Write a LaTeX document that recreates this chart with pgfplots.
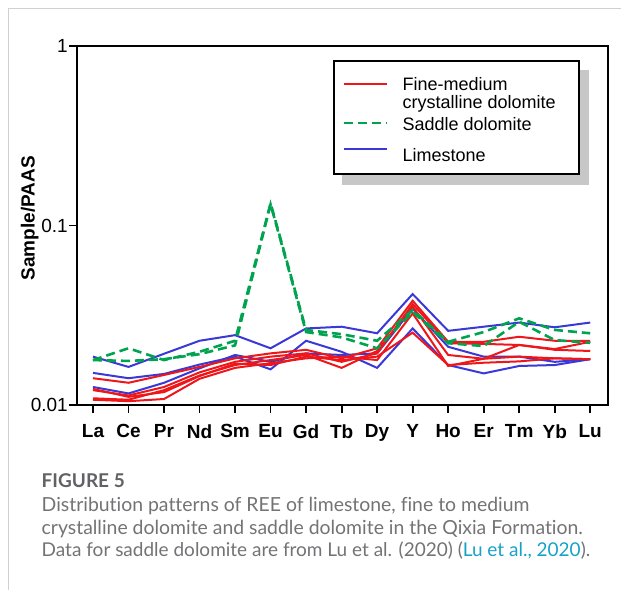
\documentclass[border=0pt]{standalone}
\usepackage{pgfplots}
\pgfplotsset{compat=1.18}
\usepackage{pgfplotstable}
\usepackage{fontspec}
\setmainfont{Liberation Sans}
\newfontfamily\capfont[Ligatures=NoCommon]{Lato}
\usetikzlibrary{backgrounds}

\definecolor{fmred}{RGB}{238,22,26}
\definecolor{sdgreen}{RGB}{0,163,80}
\definecolor{lsblue}{RGB}{58,56,214}
\definecolor{capgray}{RGB}{115,115,118}
\definecolor{capdark}{RGB}{98,98,102}
\definecolor{linkcyan}{RGB}{22,162,200}
\definecolor{framegray}{RGB}{208,208,208}

% REE / PAAS, one column per sample
\pgfplotstableread{
i  L1     L2     L3     R1     R2     R3     R4     R5     G1     G2
0  0.0186 0.0151 0.0126 0.0141 0.0121 0.0109 0.0107 0.0123 0.0178 0.0178
1  0.0163 0.0141 0.0116 0.0133 0.0113 0.0107 0.0105 0.0111 0.0207 0.0176
2  0.0193 0.0149 0.0133 0.0147 0.0126 0.0121 0.0108 0.0118 0.0178 0.0180
3  0.0228 0.0168 0.0160 0.0163 0.0152 0.0146 0.0140 0.0145 0.0198 0.0192
4  0.0245 0.0186 0.0190 0.0182 0.0174 0.0167 0.0161 0.0170 0.0228 0.0215
5  0.0207 0.0158 0.0174 0.0194 0.0186 0.0178 0.0171 0.0167 0.1330 0.1310
6  0.0267 0.0228 0.0194 0.0203 0.0194 0.0190 0.0182 0.0186 0.0262 0.0255
7  0.0273 0.0198 0.0190 0.0182 0.0174 0.0161 0.0186 0.0178 0.0248 0.0238
8  0.0251 0.0161 0.0194 0.0207 0.0194 0.0200 0.0178 0.0186 0.0228 0.0207
9  0.0415 0.0267 0.0345 0.0381 0.0365 0.0353 0.0324 0.0253 0.0338 0.0330
10 0.0259 0.0167 0.0211 0.0225 0.0221 0.0190 0.0165 0.0167 0.0225 0.0221
11 0.0273 0.0150 0.0186 0.0225 0.0219 0.0181 0.0181 0.0172 0.0255 0.0213
12 0.0288 0.0165 0.0186 0.0240 0.0216 0.0216 0.0186 0.0175 0.0304 0.0291
13 0.0271 0.0167 0.0174 0.0228 0.0205 0.0203 0.0182 0.0182 0.0262 0.0230
14 0.0288 0.0180 0.0180 0.0228 0.0225 0.0200 0.0180 0.0180 0.0251 0.0222
}\ree

\begin{document}
\begin{tikzpicture}[x=1pt,y=1pt]
\path[use as bounding box] (0,0) rectangle (621,590);
\draw[framegray, line width=1.3pt] (8.5,0) -- (8.5,581.5) -- (621,581.5);

\begin{axis}[
  at={(77pt,185pt)}, anchor=south west,
  scale only axis, width=531pt, height=359pt,
  ymode=log,
  xmin=-0.45, xmax=14.5, ymin=0.01, ymax=1,
  xtick={0,...,14},
  xticklabels={La,Ce,Pr,Nd,Sm,Eu,Gd,Tb,Dy,Y,Ho,Er,Tm,Yb,Lu},
  ytick={0.01,0.1,1}, yticklabels={0.01,0.1,1},
  yminorticks=false,
  tick pos=left, tick align=outside, major tick length=8pt,
  axis line style={line width=2pt},
  tick style={line width=1.8pt, black},
  tick label style={font=\fontsize{19}{22}\selectfont},
  xticklabel style={font=\fontsize{19}{22}\selectfont\bfseries, yshift=-8pt},
  yticklabel style={inner xsep=1pt},
  ylabel={Sample/PAAS},
  ylabel style={font=\fontsize{19}{22}\selectfont\bfseries,
    at={(axis description cs:-0.089,0.52)}, anchor=center},
  legend style={name=leg, at={(axis description cs:0.482,0.961)}, anchor=north west,
    draw=black, line width=2.2pt, fill=white,
    font=\fontsize{18}{20}\selectfont,
    nodes={inner ysep=0pt}, row sep=0pt, inner xsep=9pt, inner ysep=11pt,
    /tikz/every odd column/.append style={column sep=12pt}},
  legend cell align=left,
  legend image code/.code={\draw[#1] (0pt,-2pt) -- (43pt,-2pt);},
]
\addlegendimage{fmred, line width=2pt}
\addlegendentry{\rule[-5pt]{0pt}{23.3pt}Fine-medium}
\addlegendimage{empty legend}
\addlegendentry{\rule{0pt}{17pt}crystalline dolomite\hspace*{12pt}}
\addlegendimage{sdgreen, line width=2.6pt, dash pattern=on 9pt off 5pt}
\addlegendentry{\rule{0pt}{19.7pt}Saddle dolomite}
\addlegendimage{lsblue, line width=2pt}
\addlegendentry{\rule{0pt}{30pt}Limestone}

\addplot[lsblue, line width=2pt, forget plot] table[x=i, y=L1] {\ree};
\addplot[lsblue, line width=2pt, forget plot] table[x=i, y=L2] {\ree};
\addplot[lsblue, line width=2pt, forget plot] table[x=i, y=L3] {\ree};
\addplot[fmred, line width=2pt, forget plot] table[x=i, y=R1] {\ree};
\addplot[fmred, line width=2pt, forget plot] table[x=i, y=R2] {\ree};
\addplot[fmred, line width=2pt, forget plot] table[x=i, y=R3] {\ree};
\addplot[fmred, line width=2pt, forget plot] table[x=i, y=R4] {\ree};
\addplot[fmred, line width=2pt, forget plot] table[x=i, y=R5] {\ree};
\addplot[sdgreen, line width=2.6pt, dash pattern=on 9pt off 5pt, forget plot] table[x=i, y=G1] {\ree};
\addplot[sdgreen, line width=2.6pt, dash pattern=on 9pt off 5pt, forget plot] table[x=i, y=G2] {\ree};
\end{axis}

\begin{scope}[on background layer]
\fill[black!22] ([shift={(9pt,-10pt)}]leg.south west) rectangle ([shift={(9pt,-10pt)}]leg.north east);
\end{scope}

\node[anchor=base west, inner sep=0, text=capdark, font=\capfont\bfseries\fontsize{19}{22}\selectfont] at (41.5,103) {FIGURE 5};
\node[anchor=base west, inner sep=0, text=capgray, font=\capfont\fontsize{19.4}{22}\selectfont] at (41.5,78.5) {Distribution patterns of REE of limestone, fine to medium};
\node[anchor=base west, inner sep=0, text=capgray, font=\capfont\fontsize{19.4}{22}\selectfont] at (41.5,56) {crystalline dolomite and saddle dolomite in the Qixia Formation.};
\node[anchor=base west, inner sep=0, text=capgray, font=\capfont\fontsize{19}{22}\selectfont] at (41.5,33.5) {Data for saddle dolomite are from Lu et al. (2020) (\textcolor{linkcyan}{Lu et al., 2020}).};
\end{tikzpicture}
\end{document}
